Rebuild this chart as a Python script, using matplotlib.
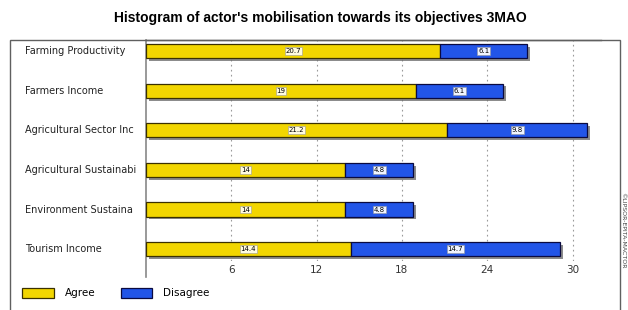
import matplotlib
matplotlib.use("Agg")
import matplotlib.pyplot as plt
import matplotlib.patheffects as pe
from matplotlib.patches import Rectangle

categories = ["Farming Productivity", "Farmers Income", "Agricultural Sector Inc",
              "Agricultural Sustainabi", "Environment Sustaina", "Tourism Income"]
agree = [20.7, 19, 21.2, 14, 14, 14.4]
disagree = [6.1, 6.1, 9.8, 4.8, 4.8, 14.7]
ticks = [6, 12, 18, 24, 30]

W, H = 628, 310
fig = plt.figure(figsize=(W / 100, H / 100), dpi=100)

# outer frame
fig.patches.append(Rectangle((10 / W, -0.05), 610 / W, 1.05 - 40 / H,
                             transform=fig.transFigure, fill=False,
                             edgecolor="#606060", linewidth=1.0))

ax = fig.add_axes([146 / W, 1 - 261 / H, (601 - 146) / W, (261 - 40) / H])
ax.set_xlim(0, 32)
ax.set_ylim(len(categories) - 0.7, -0.28)

ypos = list(range(len(categories)))
shadow = [pe.SimplePatchShadow(offset=(2, -2), shadow_rgbFace="#707070", alpha=0.8), pe.Normal()]
b1 = ax.barh(ypos, agree, height=0.36, color="#F2D600", edgecolor="#3a3000",
             linewidth=0.9, zorder=3, label="Agree")
b2 = ax.barh(ypos, disagree, left=agree, height=0.36, color="#2255E8", edgecolor="#0a0a40",
             linewidth=0.9, zorder=3, label="Disagree")
for b in list(b1) + list(b2):
    b.set_path_effects(shadow)

for i in ypos:
    ax.text(agree[i] / 2, i, f"{agree[i]:g}", ha="center", va="center", fontsize=5,
            zorder=5, bbox=dict(boxstyle="square,pad=0.12", fc="#FFFBE0", ec="#999999", lw=0.4))
    ax.text(agree[i] + disagree[i] / 2, i, f"{disagree[i]:g}", ha="center", va="center",
            fontsize=5, zorder=5,
            bbox=dict(boxstyle="square,pad=0.12", fc="#F0F4FF", ec="#999999", lw=0.4))

ax.set_xticks(ticks)
ax.set_xticklabels([str(t) for t in ticks], fontsize=7.5, color="#333333")
ax.tick_params(axis="x", length=0, pad=3)
ax.set_yticks(ypos)
ax.set_yticklabels([])
ax.tick_params(axis="y", length=0)
for i, c in enumerate(categories):
    ax.text(-121 / 14.22, i, c, ha="left", va="center", fontsize=7, color="#222222")

ax.grid(axis="x", linestyle=(0, (1.5, 3)), color="#9a9a9a", linewidth=0.8, zorder=0)
for s in ["right", "bottom"]:
    ax.spines[s].set_visible(False)
ax.spines["top"].set_color("#555555")
ax.spines["top"].set_linewidth(1.0)
ax.spines["left"].set_color("#888888")
ax.spines["left"].set_linewidth(1.2)
ax.spines["left"].set_bounds(-0.28, len(categories) - 0.3)

fig.text(320 / W, 1 - 18 / H, "Histogram of actor's mobilisation towards its objectives 3MAO",
         ha="center", va="center", fontsize=10, fontweight="bold",
         family=["Liberation Sans Narrow", "Liberation Sans"])

# legend
leg = fig.legend(handles=[b1, b2], labels=["Agree", "Disagree"], loc="center left",
                 bbox_to_anchor=(13 / W, 1 - 293 / H), ncol=2, frameon=False,
                 fontsize=7.5, handlelength=3.0, handleheight=1.2, columnspacing=2.4,
                 handletextpad=1.1)
for h in leg.legend_handles:
    h.set_path_effects([])

fig.text(623 / W, 1 - 230 / H, "©LIPSOR-EPITA-MACTOR", rotation=270, ha="center",
         va="center", fontsize=4.5, color="#444444")

fig.savefig("out.png", dpi=100)
